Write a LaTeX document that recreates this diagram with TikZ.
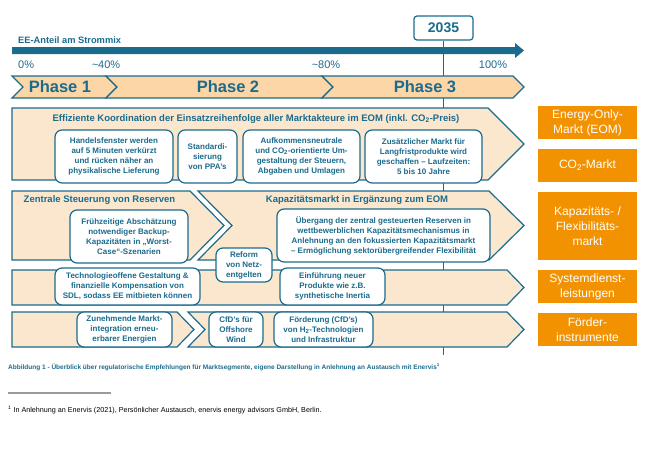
\documentclass[tikz,border=0pt]{standalone}
\usepackage{fontspec}
\setmainfont{Liberation Sans}
\definecolor{teal1}{HTML}{1B6B8C}
\definecolor{peach}{HTML}{FDD6A8}
\definecolor{bandfill}{HTML}{FBE7CE}
\definecolor{orng}{HTML}{F39200}
\definecolor{rulegray}{HTML}{9A9A9A}
\begin{document}
\begin{tikzpicture}[x=1pt,y=-1pt,
  band/.style={draw=teal1, line width=1.2pt, fill=bandfill, line join=miter},
  phaseband/.style={draw=teal1, line width=1.2pt, fill=peach, line join=miter},
  subbox/.style={draw=teal1, line width=1.2pt, fill=white, rounded corners=7pt, align=center, inner sep=1pt, text=teal1, font=\bfseries\fontsize{8}{10}\selectfont},
  sidebox/.style={fill=orng, text=white, align=center, minimum width=99pt, inner sep=0pt, font=\fontsize{12}{15}\selectfont},
  bandtitle/.style={text=teal1, font=\bfseries\fontsize{9.5}{11}\selectfont, inner sep=0pt},
  phasetxt/.style={text=teal1, font=\bfseries\fontsize{16.5}{18}\selectfont, inner sep=0pt},
  pct/.style={text=teal1, font=\fontsize{11}{12}\selectfont, inner sep=0pt}
]
\useasboundingbox (0,0) rectangle (650,450);

% year marker and vertical line
\node[draw=teal1, line width=1.2pt, fill=white, rounded corners=3pt, minimum width=59pt, minimum height=24pt, inner sep=0pt, text=teal1, font=\bfseries\fontsize{14}{16}\selectfont] (y2035) at (443.5,28) {2035};
\coordinate (vend) at (443.5,355);
\draw[teal1, line width=1.3pt] (y2035.south) -- (vend);

% EE axis
\node[anchor=west, text=teal1, font=\bfseries\fontsize{9.3}{11}\selectfont, inner sep=0pt] (ee) at (18,40) {EE-Anteil am Strommix};
\fill[teal1] (12,47) -- (515,47) -- (515,43) -- (524,50.5) -- (515,58) -- (515,54) -- (12,54) -- cycle;
\node[pct, anchor=west] (p0) at (18,65) {0\%};
\node[pct] (p40) at (106,65) {\textasciitilde40\%};
\node[pct] (p80) at (326,65) {\textasciitilde80\%};
\node[pct] (p100) at (493,65) {100\%};

% phases
\draw[phaseband] (12,76) -- (106,76) -- (117,87) -- (106,98) -- (12,98) -- (23,87) -- cycle;
\draw[phaseband] (106,76) -- (322,76) -- (333,87) -- (322,98) -- (106,98) -- (117,87) -- cycle;
\draw[phaseband] (322,76) -- (513,76) -- (524,87) -- (513,98) -- (322,98) -- (333,87) -- cycle;
\node[phasetxt] (ph1) at (60,87) {Phase 1};
\node[phasetxt] (ph2) at (228,87) {Phase 2};
\node[phasetxt] (ph3) at (425,87) {Phase 3};

% band 1
\draw[band] (12,108) -- (488,108) -- (524,144) -- (488,180) -- (12,180) -- cycle;
\node[bandtitle] (t1) at (256,119) {Effiziente Koordination der Einsatzreihenfolge aller Marktakteure im EOM (inkl. CO\textsubscript{2}-Preis)};
\node[subbox, minimum width=118pt, minimum height=53pt] (a) at (114,156.5) {Handelsfenster werden\\auf 5 Minuten verkürzt\\und rücken näher an\\physikalische Lieferung};
\node[subbox, minimum width=59pt, minimum height=53pt] (b) at (207.5,156.5) {Standardi-\\sierung\\von PPA's};
\node[subbox, minimum width=117pt, minimum height=53pt] (c) at (301.5,156.5) {Aufkommensneutrale\\und CO\textsubscript{2}-orientierte Um-\\gestaltung der Steuern,\\Abgaben und Umlagen};
\node[subbox, minimum width=117pt, minimum height=53pt] (d) at (423.5,156.5) {Zusätzlicher Markt für\\Langfristprodukte wird\\geschaffen -- Laufzeiten:\\5 bis 10 Jahre};

% band 2
\draw[band] (12,191) -- (190,191) -- (224,225.5) -- (190,260) -- (12,260) -- cycle;
\draw[band] (198,191) -- (489,191) -- (524,225.5) -- (489,260) -- (198,260) -- (232,225.5) -- cycle;
\node[bandtitle] (t2) at (99.5,200) {Zentrale Steuerung von Reserven};
\node[bandtitle] (t3) at (357,200) {Kapazitätsmarkt in Ergänzung zum EOM};
\node[subbox, minimum width=118pt, minimum height=53pt] (e) at (129,236.5) {Frühzeitige Abschätzung\\notwendiger Backup-\\Kapazitäten in „Worst-\\Case“-Szenarien};
\node[subbox, minimum width=213pt, minimum height=53pt] (f) at (383.5,235.5) {Übergang der zentral gesteuerten Reserven in\\wettbewerblichen Kapazitätsmechanismus in\\Anlehnung an den fokussierten Kapazitätsmarkt\\-- Ermöglichung sektorübergreifender Flexibilität};

% band 3
\draw[band] (12,270) -- (507,270) -- (524,287.5) -- (507,305) -- (12,305) -- cycle;
\node[subbox, minimum width=145pt, minimum height=37pt] (g) at (127.5,286.5) {Technologieoffene Gestaltung \&\\finanzielle Kompensation von\\SDL, sodass EE mitbieten können};
\node[subbox, minimum width=105pt, minimum height=37pt] (h) at (332.5,286.5) {Einführung neuer\\Produkte wie z.B.\\synthetische Inertia};
\node[subbox, minimum width=56pt, minimum height=34pt] (r) at (244,265) {Reform\\von Netz-\\entgelten};

% band 4
\draw[band] (12,312) -- (177,312) -- (194,329.5) -- (177,347) -- (12,347) -- cycle;
\draw[band] (188,312) -- (507,312) -- (524,329.5) -- (507,347) -- (188,347) -- (205,329.5) -- cycle;
\node[subbox, minimum width=95pt, minimum height=35pt] (i) at (124.5,329.5) {Zunehmende Markt-\\integration erneu-\\erbarer Energien};
\node[subbox, minimum width=54pt, minimum height=35pt] (j) at (236,329.5) {CfD's für\\Offshore\\Wind};
\node[subbox, minimum width=99pt, minimum height=35pt] (k) at (323.5,329.5) {Förderung (CfD's)\\von H\textsubscript{2}-Technologien\\und Infrastruktur};

% side boxes
\node[sidebox, minimum height=33pt] (s1) at (587.5,122.5) {Energy-Only-\\Markt (EOM)};
\node[sidebox, minimum height=33pt] (s2) at (587.5,165.5) {CO\textsubscript{2}-Markt};
\node[sidebox, minimum height=68pt] (s3) at (587.5,226) {Kapazitäts- /\\Flexibilitäts-\\markt};
\node[sidebox, minimum height=33pt] (s4) at (587.5,286.5) {Systemdienst-\\leistungen};
\node[sidebox, minimum height=33pt] (s5) at (587.5,329.5) {Förder-\\instrumente};

% caption and footnote
\node[anchor=west, inner sep=0pt, text=teal1, font=\bfseries\fontsize{6.5}{8}\selectfont] (cap) at (8,367) {Abbildung 1 - Überblick über regulatorische Empfehlungen für Marktsegmente, eigene Darstellung in Anlehnung an Austausch mit Enervis\textsuperscript{1}};
\coordinate (r1) at (8,393);
\coordinate (r2) at (111,393);
\draw[rulegray, line width=1.5pt] (r1) -- (r2);
\node[anchor=west, inner sep=0pt, font=\fontsize{7.2}{9}\selectfont] (fn) at (8,410) {\textsuperscript{1} In Anlehnung an Enervis (2021), Persönlicher Austausch, enervis energy advisors GmbH, Berlin.};
\end{tikzpicture}
\end{document}
